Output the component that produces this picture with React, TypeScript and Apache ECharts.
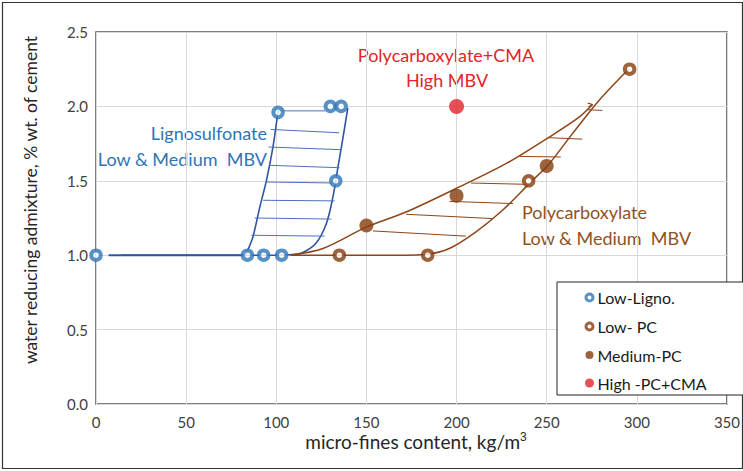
import React, { useEffect, useRef } from "react";
import * as echarts from "echarts";

// ---- axis ticks ----
const xTicks = [0, 50, 100, 150, 200, 250, 300, 350];
const yTicks = [0, 0.5, 1.0, 1.5, 2.0, 2.5];

// ---- measured points ----
const lowLigno = [[0, 1.0], [84, 1.0], [93, 1.0], [103, 1.0], [101, 1.96], [130, 2.0], [136, 2.0], [133, 1.5]];
const lowPC = [[135, 1.0], [184, 1.0], [240, 1.5], [296, 2.25]];
const mediumPC = [[150, 1.2], [200, 1.4], [250, 1.6]];
const highPCCMA = [[200, 2.0]];

// ---- hand-drawn envelopes (data units) ----
const lignoBase = [[7, 1.0], [83, 1.0]];
const lignoLeft = [[83, 1.0], [87, 1.12], [90.8, 1.32], [94.5, 1.5], [98.2, 1.73], [101, 1.97]];
const lignoRight = [[14, 1.0], [100, 1.0], [109, 1.005], [115, 1.02], [122, 1.08], [127.7, 1.21], [131.4, 1.39], [134.2, 1.59], [137, 1.79], [139.7, 1.99]];
const lignoHatch = [
  [[101, 1.97], [127, 1.97]],
  [[96.9, 1.845], [134.9, 1.823]],
  [[95.8, 1.727], [136, 1.709]],
  [[96.3, 1.604], [135.1, 1.588]],
  [[94.5, 1.492], [133.3, 1.485]],
  [[92.7, 1.369], [132.4, 1.365]],
  [[88.0, 1.25], [130.5, 1.243]],
  [[86.2, 1.134], [126.8, 1.128]],
];
const pcUpper = [[108, 1.0], [125.9, 1.045], [150.2, 1.19], [172, 1.29], [199.7, 1.448], [227.4, 1.615], [251.4, 1.794], [268, 1.928], [275.4, 2.013]];
const pcHook = [[272.8, 2.022], [275.4, 2.013], [273.2, 1.996]];
const pcLower = [[108, 1.0], [134.7, 1.0], [162.8, 1.0], [183.6, 1.007], [196, 1.045], [210.8, 1.157], [225.5, 1.302], [240.3, 1.481], [251.4, 1.615], [264.3, 1.817], [279, 2.04], [295.7, 2.253]];
const pcHatch = [
  [[153.6, 1.163], [205.2, 1.128]],
  [[172, 1.275], [220.2, 1.246]],
  [[196, 1.362], [231.3, 1.347]],
  [[208, 1.485], [240.3, 1.476]],
  [[234.9, 1.664], [257.8, 1.66]],
  [[250.6, 1.79], [269.8, 1.78]],
  [[272.6, 1.978], [280.9, 1.973]],
];

const legendNames = ["Low-Ligno.", "Low- PC", "Medium-PC", "High -PC+CMA"];

const BLUE = "#2E75B6";
const BLUE_LINE = "#2F55A0";
const BLUE_HATCH = "#4A72C0";
const BROWN = "#843C0C";
const BROWN_LINE = "#8E4517";
const BROWN_TEXT = "#91511F";
const RED = "#E4242A";
const FONT = "Lato, 'Liberation Sans', sans-serif";

const hollowIcon = "path://M0 0M14 14M7 3.5A3.5 3.5 0 1 1 7 10.5A3.5 3.5 0 1 1 7 3.5Z";
const dotIcon = "path://M0 0M14 14M7 3A4 4 0 1 1 7 11A4 4 0 1 1 7 3Z";
const redIcon = "path://M0 0M14 14M7 2.5A4.5 4.5 0 1 1 7 11.5A4.5 4.5 0 1 1 7 2.5Z";

function lineSeries(data: number[][], color: string, width: number, smooth: number | boolean) {
  return {
    type: "line",
    data,
    smooth,
    symbol: "none",
    showSymbol: false,
    silent: true,
    lineStyle: { color, width },
    z: 2,
  };
}

export default function App() {
  const ref = useRef<HTMLDivElement>(null);
  useEffect(() => {
    if (!ref.current) return;
    const chart = echarts.init(ref.current, null, { renderer: "svg" });
    const series: any[] = [
      lineSeries(lignoBase, BLUE_LINE, 2, false),
      lineSeries(lignoLeft, BLUE_LINE, 1.6, 0.25),
      lineSeries(lignoRight, BLUE_LINE, 1.6, 0.35),
      ...lignoHatch.map((s) => lineSeries(s, BLUE_HATCH, 1, false)),
      lineSeries(pcUpper, BROWN_LINE, 1.5, 0.3),
      lineSeries(pcHook, BROWN_LINE, 1.2, false),
      lineSeries(pcLower, BROWN_LINE, 1.5, 0.3),
      ...pcHatch.map((s) => lineSeries(s, BROWN_LINE, 1, false)),
      {
        name: legendNames[0], type: "scatter", data: lowLigno, symbol: "circle", symbolSize: 9.5, z: 5,
        itemStyle: { color: "#fff", borderColor: BLUE, borderWidth: 4 },
      },
      {
        name: legendNames[1], type: "scatter", data: lowPC, symbol: "circle", symbolSize: 9.5, z: 5,
        itemStyle: { color: "#fff", borderColor: BROWN, borderWidth: 4 },
      },
      {
        name: legendNames[2], type: "scatter", data: mediumPC, symbol: "circle", symbolSize: 14, z: 5,
        itemStyle: { color: BROWN },
      },
      {
        name: legendNames[3], type: "scatter", data: highPCCMA, symbol: "circle", symbolSize: 15, z: 5,
        itemStyle: { color: RED },
      },
    ];
    chart.setOption({
      animation: false,
      textStyle: { fontFamily: FONT },
      grid: {
        left: 96, right: 14, top: 32, bottom: 67,
        show: true, borderColor: "#555", borderWidth: 1.5, backgroundColor: "transparent",
      },
      xAxis: {
        type: "value", min: xTicks[0], max: xTicks[xTicks.length - 1], interval: 50,
        axisLine: { show: false }, axisTick: { show: false },
        splitLine: { show: true, lineStyle: { color: "#d9d9d9", width: 1 } },
        axisLabel: { color: "#404040", fontSize: 15, margin: 10, fontFamily: FONT },
      },
      yAxis: {
        type: "value", min: yTicks[0], max: yTicks[yTicks.length - 1], interval: 0.5,
        axisLine: { show: false }, axisTick: { show: false },
        splitLine: { show: true, lineStyle: { color: "#d9d9d9", width: 1 } },
        axisLabel: { color: "#404040", fontSize: 15, margin: 8, fontFamily: FONT, formatter: (v: number) => v.toFixed(1) },
      },
      legend: {
        orient: "vertical", left: 557, top: 282,
        padding: [7, 37, 4, 24], itemGap: 12, itemWidth: 14, itemHeight: 14,
        borderColor: "#222", borderWidth: 1, backgroundColor: "#fff",
        textStyle: { fontSize: 16, color: "#1a1a1a", fontFamily: FONT, padding: [0, 0, 0, -4] },
        selectedMode: false,
        data: [
          { name: legendNames[0], icon: hollowIcon, itemStyle: { color: "#fff", borderColor: BLUE, borderWidth: 3 } },
          { name: legendNames[1], icon: hollowIcon, itemStyle: { color: "#fff", borderColor: BROWN, borderWidth: 3 } },
          { name: legendNames[2], icon: dotIcon, itemStyle: { color: BROWN, borderWidth: 0 } },
          { name: legendNames[3], icon: redIcon, itemStyle: { color: RED, borderWidth: 0 } },
        ],
      },
      graphic: [
        { type: "rect", shape: { x: 2.5, y: 2.5, width: 740, height: 466 }, style: { fill: "none", stroke: "#333", lineWidth: 1.2 }, silent: true, z: -1 },
        {
          type: "text", x: 30, y: 200, rotation: Math.PI / 2,
          style: { text: "water reducing admixture, % wt. of cement", fill: "#262626", font: `17.5px ${FONT}`, textAlign: "center", textVerticalAlign: "middle" },
        },
        {
          type: "text", x: 416, y: 441,
          style: {
            text: "micro-fines content, kg/m{sup|3}", fill: "#262626", font: `19px ${FONT}`, textAlign: "center", textVerticalAlign: "middle",
            rich: { sup: { fontSize: 12, verticalAlign: "top", padding: [0, 0, 8, 0], fill: "#262626" } } as any,
          },
        },
        { type: "text", x: 267, y: 133, style: { text: "Lignosulfonate", fill: BLUE, font: `18px ${FONT}`, textAlign: "right", textVerticalAlign: "middle" } },
        { type: "text", x: 267, y: 159, style: { text: "Low & Medium  MBV", fill: BLUE, font: `18px ${FONT}`, textAlign: "right", textVerticalAlign: "middle" } },
        { type: "text", x: 446, y: 55, style: { text: "Polycarboxylate+CMA", fill: RED, font: `18px ${FONT}`, textAlign: "center", textVerticalAlign: "middle" } },
        { type: "text", x: 447, y: 80, style: { text: "High MBV", fill: RED, font: `18px ${FONT}`, textAlign: "center", textVerticalAlign: "middle" } },
        { type: "text", x: 522, y: 212, style: { text: "Polycarboxylate", fill: BROWN_TEXT, font: `18px ${FONT}`, textAlign: "left", textVerticalAlign: "middle" } },
        { type: "text", x: 522, y: 238, style: { text: "Low & Medium  MBV", fill: BROWN_TEXT, font: `18px ${FONT}`, textAlign: "left", textVerticalAlign: "middle" } },
      ],
      series,
    });
    return () => chart.dispose();
  }, []);
  return <div ref={ref} style={{ position: "fixed", left: 0, top: 0, width: 743, height: 471, background: "#fff" }} />;
}
